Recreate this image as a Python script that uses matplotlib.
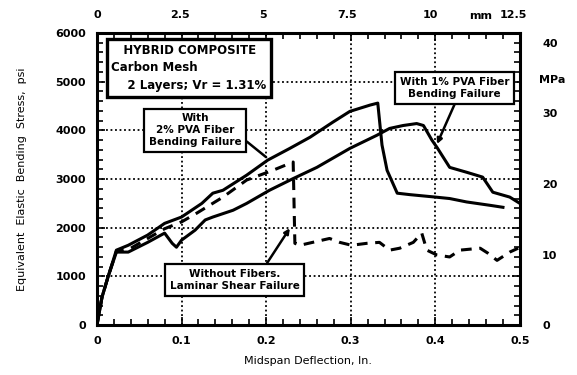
import numpy as np
import matplotlib.pyplot as plt

plt.rcParams['font.family'] = ['DejaVu Sans']
plt.rcParams['font.weight'] = 'bold'

# With 2% PVA fiber - bending failure
x_pva2 = [0, 0.006, 0.013, 0.023, 0.037, 0.06, 0.08, 0.1, 0.124, 0.137, 0.149, 0.177, 0.202,
          0.228, 0.252, 0.279, 0.299, 0.323, 0.332, 0.337, 0.343, 0.355, 0.37, 0.40, 0.417,
          0.437, 0.465, 0.48]
y_pva2 = [0, 575, 985, 1540, 1640, 1850, 2090, 2220, 2500, 2710, 2770, 3080, 3390,
          3630, 3860, 4170, 4390, 4520, 4560, 3700, 3180, 2710, 2680, 2630, 2600,
          2530, 2460, 2420]

# With 1% PVA fiber - bending failure
x_pva1 = [0, 0.006, 0.013, 0.023, 0.037, 0.06, 0.08, 0.089, 0.094, 0.1, 0.116, 0.128, 0.137,
          0.161, 0.177, 0.204, 0.232, 0.26, 0.299, 0.331, 0.346, 0.362, 0.378, 0.386, 0.396,
          0.402, 0.417, 0.437, 0.456, 0.468, 0.488, 0.5]
y_pva1 = [0, 575, 985, 1500, 1500, 1700, 1890, 1680, 1600, 1745, 1950, 2160, 2220,
          2360, 2500, 2770, 3010, 3240, 3630, 3900, 4040, 4100, 4140, 4100, 3800,
          3650, 3240, 3140, 3040, 2730, 2630, 2500]

# Without fibers - laminar shear failure
x_none = [0, 0.006, 0.013, 0.023, 0.04, 0.06, 0.08, 0.1, 0.118, 0.149, 0.177, 0.208, 0.232,
          0.234, 0.24, 0.255, 0.275, 0.287, 0.301, 0.319, 0.334, 0.346, 0.358, 0.374, 0.384,
          0.39, 0.402, 0.417, 0.429, 0.453, 0.462, 0.473, 0.488, 0.498]
y_none = [0, 575, 985, 1520, 1580, 1780, 1980, 2120, 2300, 2630, 2980, 3180, 3350,
          1680, 1640, 1700, 1780, 1700, 1640, 1680, 1700, 1540, 1580, 1700, 1890,
          1540, 1440, 1400, 1540, 1580, 1480, 1330, 1500, 1580]

x_major = [0, 0.1, 0.2, 0.3, 0.4, 0.5]
y_major = [0, 1000, 2000, 3000, 4000, 5000, 6000]
mm_ticks = [0, 2.5, 5, 7.5, 10, 12.5]
mpa_ticks = [0, 10, 20, 30, 40]

fig = plt.figure(figsize=(5.77, 3.75), dpi=100)
ax = fig.add_axes([0.168, 0.133, 0.733, 0.779])

ax.plot(x_pva2, y_pva2, color='black', lw=2.2, zorder=3)
ax.plot(x_pva1, y_pva1, color='black', lw=2.2, zorder=3)
ax.plot(x_none, y_none, color='black', lw=2.2, ls=(0, (3.5, 2.5)), zorder=3)

ax.set_xlim(0, 0.5)
ax.set_ylim(0, 6000)
ax.set_xticks(x_major)
ax.set_yticks(y_major)
ax.set_xticklabels(['0', '0.1', '0.2', '0.3', '0.4', '0.5'])
ax.set_xticks(np.arange(0, 0.5, 0.02), minor=True)
ax.set_yticks(np.arange(0, 6000, 200), minor=True)
ax.tick_params(which='both', direction='in', top=True, right=True, width=1.2, labelsize=8)
ax.tick_params(which='major', length=6, pad=8)
ax.tick_params(which='minor', length=4)
for s in ax.spines.values():
    s.set_linewidth(2.2)

ax.grid(True, which='major', color='black', ls=(0, (1, 1.5)), lw=1.3)

ax.set_xlabel('Midspan Deflection, In.', fontsize=8, labelpad=7)
ax.set_ylabel('Equivalent  Elastic  Bending  Stress,  psi', fontsize=8, labelpad=20)

top = ax.secondary_xaxis('top', functions=(lambda v: v * 25.4, lambda v: v / 25.4))
top.set_xticks(mm_ticks)
top.set_xticklabels(['0', '2.5', '5', '7.5', '10', '12.5'])
top.tick_params(length=0, labelsize=8, pad=9)
top.spines['top'].set_visible(False)
fig.text(0.833, 0.958, 'mm', fontsize=8, ha='center', va='center')

right = ax.secondary_yaxis('right', functions=(lambda v: v / 145.04, lambda v: v * 145.04))
right.set_yticks(mpa_ticks)
right.tick_params(length=0, labelsize=8, pad=16)
right.spines['right'].set_visible(False)
fig.text(0.957, 0.787, 'MPa', fontsize=8, ha='center', va='center')

box = dict(boxstyle='square,pad=0.45', fc='white', ec='black', lw=1.6)

ax.text(0.017, 4790, '   HYBRID COMPOSITE\nCarbon Mesh\n    2 Layers; Vr = 1.31%', fontsize=8.5,
        linespacing=1.45, va='bottom', ha='left', zorder=5,
        bbox=dict(boxstyle='square,pad=0.4', fc='white', ec='black', lw=2.4))

ax.annotate('With\n2% PVA Fiber\nBending Failure', xy=(0.2, 3450), xytext=(0.116, 4000),
            fontsize=7.5, ha='center', va='center', zorder=5, linespacing=1.25, bbox=box,
            arrowprops=dict(arrowstyle='-', color='black', lw=1.8, shrinkA=0, shrinkB=0,
                            relpos=(1, 0.3)))

ax.annotate('With 1% PVA Fiber\nBending Failure', xy=(0.402, 3720), xytext=(0.423, 4870),
            fontsize=7.5, ha='center', va='center', zorder=5, linespacing=1.25, bbox=box,
            arrowprops=dict(arrowstyle='-|>', color='black', lw=1.8, shrinkA=0, shrinkB=0,
                            relpos=(0.52, 0)))

ax.annotate('Without Fibers.\nLaminar Shear Failure', xy=(0.228, 1990), xytext=(0.163, 925),
            fontsize=7.5, ha='center', va='center', zorder=5, linespacing=1.35, bbox=box,
            arrowprops=dict(arrowstyle='-|>', color='black', lw=1.8, shrinkA=0, shrinkB=0,
                            relpos=(0.72, 1)))

plt.savefig('out.png', dpi=100)
